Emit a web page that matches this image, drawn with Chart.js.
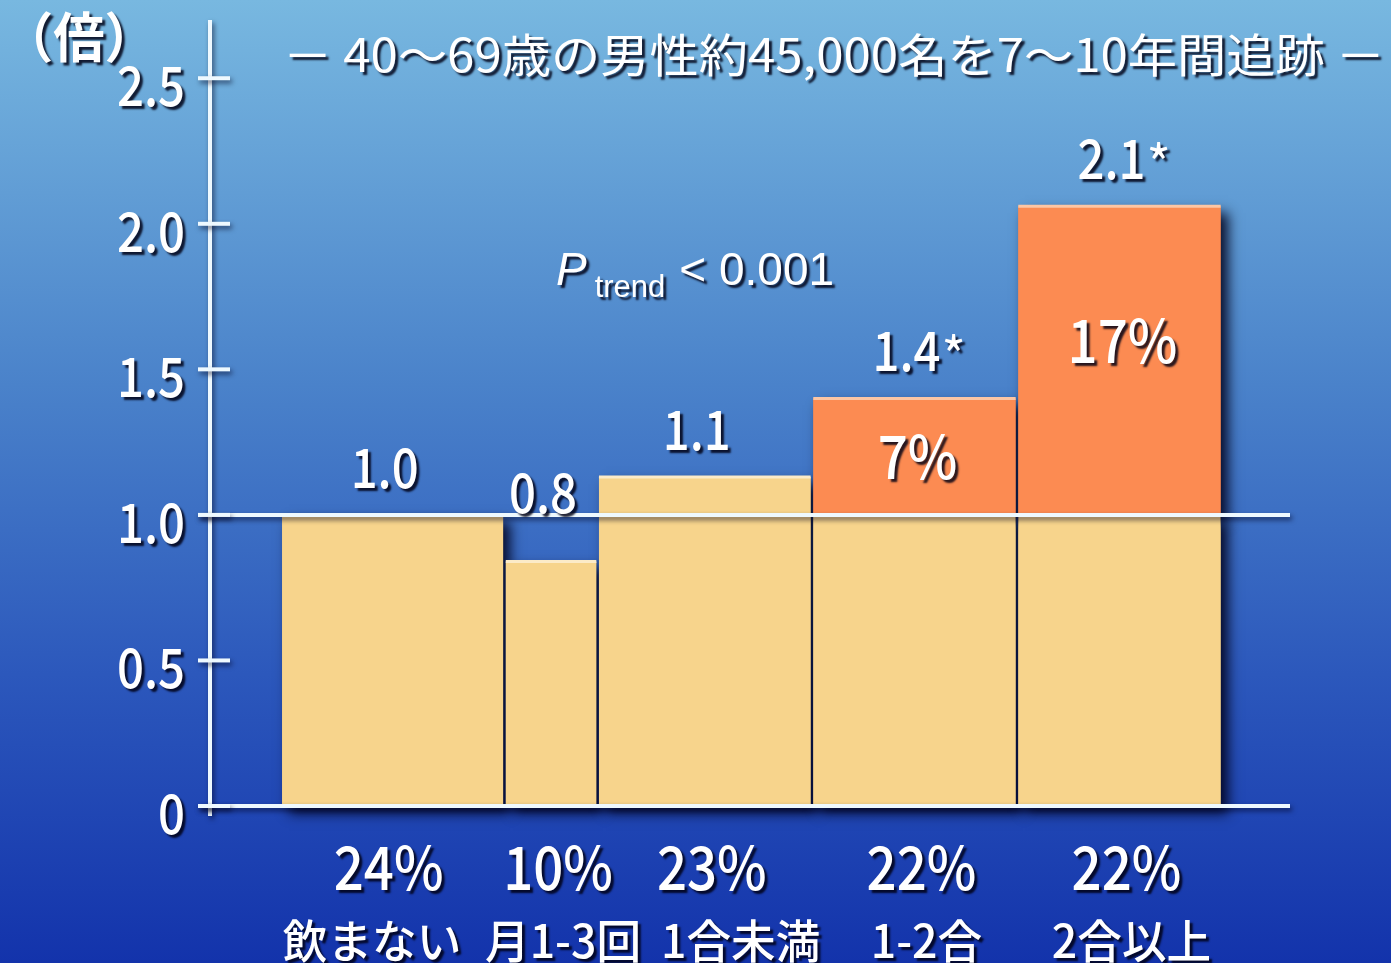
<!DOCTYPE html>
<html>
<head>
<meta charset="utf-8">
<script src="https://cdn.jsdelivr.net/npm/chart.js@4.4.1/dist/chart.umd.min.js"></script>
<style>
  html, body { margin: 0; padding: 0; background: #1434ac; }
  canvas { display: block; }
</style>
</head>
<body>
<canvas id="drinking-chart" width="1391" height="963"></canvas>
<script>
// Drinking groups and their share of the cohort (%)
const groupLabels = ['飲まない', '月1-3回', '1合未満', '1-2合', '2合以上'];
const groupShares = [24, 10, 23, 22, 22];

// Relative risk per group (non-drinkers = 1.0), * = significant
const relativeRisks = [1.0, 0.84, 1.13, 1.40, 2.06];
const significant = [false, false, false, true, true];

// Attributable share printed in the excess (orange) part
const excessShares = [null, null, null, 7, 17];

// Y axis ticks
const yTicks = [0, 0.5, 1.0, 1.5, 2.0, 2.5];
const yTickLabels = ['0', '0.5', '1.0', '1.5', '2.0', '2.5'];

const titleText = '－ 40～69歳の男性約45,000名を7～10年間追跡 －';
const unitText = '（倍）';

const JP_FONT = '"Noto Sans CJK JP", "Noto Sans", sans-serif';
const LATIN_FONT = '"Liberation Sans", Arial, sans-serif';

// bar edges on the x scale: each bar is as wide as its group share
const xEdges = [];
let running = 0;
for (const s of groupShares) {
  xEdges.push([running, running + s]);
  running += s;
}
const barGap = 0.14;

function barPoints(i, top) {
  return [{x: xEdges[i][0] + barGap, y: top}, {x: xEdges[i][1] - barGap, y: top}];
}

const datasets = [];
relativeRisks.forEach(function (rr, i) {
  datasets.push({
    label: groupLabels[i],
    data: barPoints(i, significant[i] ? 1 : rr),
    backgroundColor: '#F7D48C',
    borderColor: '#FCEBC8',
    borderWidth: 3,
    fill: 'origin',
    kind: 'base'
  });
});
relativeRisks.forEach(function (rr, i) {
  if (!significant[i]) return;
  datasets.push({
    label: groupLabels[i] + ' excess',
    data: barPoints(i, rr),
    backgroundColor: '#FC8B52',
    borderColor: '#FDC6A4',
    borderWidth: 3,
    fill: {value: 1},
    kind: 'excess'
  });
});

// white text with a dark drop shadow, squeezed horizontally
function drawText(ctx, text, x, y, o) {
  const squeeze = o.squeeze || 1;
  ctx.save();
  ctx.font = (o.style || '') + ' ' + (o.weight || '500') + ' ' + o.size + 'px ' + (o.family || JP_FONT);
  ctx.textAlign = 'left';
  ctx.textBaseline = 'alphabetic';
  let w = ctx.measureText(text).width;
  let sx = squeeze;
  if (o.fitWidth) sx = o.fitWidth / w;
  w *= sx;
  let left = x;
  if (o.align === 'center' || !o.align) left = x - w / 2;
  else if (o.align === 'right') left = x - w;
  ctx.shadowColor = 'rgba(0, 0, 20, 0.85)';
  ctx.shadowBlur = 2;
  ctx.shadowOffsetX = 3;
  ctx.shadowOffsetY = 3;
  ctx.fillStyle = '#FFFFFF';
  ctx.translate(left, y);
  ctx.scale(sx, 1);
  ctx.fillText(text, 0, 0);
  ctx.restore();
  return left + w;
}

const backgroundPlugin = {
  id: 'background',
  beforeDraw(chart) {
    const ctx = chart.ctx;
    const g = ctx.createLinearGradient(0, 0, 0, chart.height);
    g.addColorStop(0, '#78B8E0');
    g.addColorStop(0.4, '#4A82CA');
    g.addColorStop(0.7, '#2C58BC');
    g.addColorStop(1, '#1333AB');
    ctx.save();
    ctx.fillStyle = g;
    ctx.fillRect(0, 0, chart.width, chart.height);
    ctx.restore();
  }
};

// soft shadow under each bar, drawn from the dataset elements
const barShadowPlugin = {
  id: 'barShadow',
  beforeDatasetsDraw(chart) {
    const ctx = chart.ctx;
    const y = chart.scales.y;
    ctx.save();
    ctx.shadowColor = 'rgba(0, 0, 25, 0.9)';
    ctx.shadowBlur = 12;
    ctx.shadowOffsetX = 7;
    ctx.shadowOffsetY = 7;
    chart.data.datasets.forEach(function (ds, i) {
      const pts = chart.getDatasetMeta(i).data;
      const base = y.getPixelForValue(ds.kind === 'excess' ? 1 : 0);
      ctx.fillStyle = ds.backgroundColor;
      ctx.fillRect(pts[0].x, pts[0].y, pts[1].x - pts[0].x, base - pts[0].y);
    });
    ctx.restore();
  }
};

// axes, tick marks and the 1.0 reference line
const axesPlugin = {
  id: 'axes',
  afterDatasetsDraw(chart) {
    const ctx = chart.ctx;
    const area = chart.chartArea;
    const y = chart.scales.y;
    ctx.save();
    ctx.strokeStyle = '#EEF9FF';
    ctx.lineWidth = 4;
    ctx.shadowColor = 'rgba(0, 0, 30, 0.6)';
    ctx.shadowBlur = 5;
    ctx.shadowOffsetX = 2;
    ctx.shadowOffsetY = 3;
    ctx.beginPath();
    ctx.moveTo(area.left, area.top);
    ctx.lineTo(area.left, area.bottom + 10);
    ctx.stroke();
    [0, 1].forEach(function (v) {
      const py = y.getPixelForValue(v);
      ctx.beginPath();
      ctx.moveTo(area.left - 12, py);
      ctx.lineTo(area.right, py);
      ctx.stroke();
    });
    yTicks.forEach(function (v) {
      const py = y.getPixelForValue(v);
      ctx.beginPath();
      ctx.moveTo(area.left - 12, py);
      ctx.lineTo(area.left + 20, py);
      ctx.stroke();
    });
    ctx.restore();
  }
};

const labelsPlugin = {
  id: 'labels',
  afterDraw(chart) {
    const ctx = chart.ctx;
    const area = chart.chartArea;
    const x = chart.scales.x;
    const y = chart.scales.y;

    drawText(ctx, unitText, 2, 58, {size: 54, weight: '700', align: 'left', squeeze: 0.95});
    drawText(ctx, titleText, 283, 72, {size: 46, weight: '400', align: 'left', fitWidth: 1102});

    yTicks.forEach(function (v, i) {
      drawText(ctx, yTickLabels[i], area.left - 25, y.getPixelForValue(v) + 28,
        {size: 55, align: 'right', squeeze: 0.86});
    });

    relativeRisks.forEach(function (rr, i) {
      const cx = x.getPixelForValue((xEdges[i][0] + xEdges[i][1]) / 2);
      const top = y.getPixelForValue(rr);
      const baseY = rr < 1 ? y.getPixelForValue(1) - 2 : top - 27;
      const end = drawText(ctx, rr.toFixed(1), cx - 8, baseY, {size: 55, squeeze: 0.86});
      if (significant[i]) drawText(ctx, '*', end + 1, baseY + 4, {size: 52, weight: '400', align: 'left'});

      if (excessShares[i] != null) {
        const midY = (y.getPixelForValue(1) + top) / 2;
        const lift = rr > 1.8 ? 20 : 0;
        drawText(ctx, excessShares[i] + '%', cx + 3, midY + 22 - lift, {size: 60, squeeze: 0.88});
      }

      drawText(ctx, groupShares[i] + '%', cx + (i === 0 ? -4 : 7), 890, {size: 60, squeeze: 0.88});
    });

    // category names: first one starts at the bar's left edge,
    // the rest sit near their bar centre and are pushed right on collision
    ctx.save();
    ctx.font = '500 46px ' + JP_FONT;
    let prevRight = -Infinity;
    groupLabels.forEach(function (lab, i) {
      const w = ctx.measureText(lab).width * 0.97;
      let left;
      if (i === 0) {
        left = x.getPixelForValue(xEdges[0][0]) + 2;
      } else {
        const cx = x.getPixelForValue((xEdges[i][0] + xEdges[i][1]) / 2) + 12;
        left = Math.max(cx - w / 2, prevRight + 20);
      }
      drawText(ctx, lab, left, 958, {size: 46, align: 'left', squeeze: 0.97});
      prevRight = left + w;
    });
    ctx.restore();

    // trend test annotation
    let px = drawText(ctx, 'P', 556, 285, {size: 46, family: LATIN_FONT, weight: '400', style: 'italic', align: 'left'});
    px = drawText(ctx, 'trend', px + 8, 297, {size: 31, family: LATIN_FONT, weight: '400', align: 'left'});
    drawText(ctx, '< 0.001', px + 14, 285, {size: 46, family: LATIN_FONT, weight: '400', align: 'left'});
  }
};

const chart = new Chart(document.getElementById('drinking-chart'), {
  type: 'line',
  data: {datasets: datasets},
  options: {
    responsive: false,
    animation: false,
    devicePixelRatio: 1,
    layout: {padding: {left: 210, right: 101, top: 20, bottom: 157}},
    elements: {
      point: {radius: 0},
      line: {tension: 0}
    },
    datasets: {line: {clip: false}},
    scales: {
      x: {type: 'linear', min: -7.6, max: 108.3, display: false},
      y: {type: 'linear', min: 0, max: 2.7, display: false}
    },
    plugins: {
      legend: {display: false},
      tooltip: {enabled: false}
    }
  },
  plugins: [backgroundPlugin, barShadowPlugin, axesPlugin, labelsPlugin]
});
</script>
</body>
</html>
